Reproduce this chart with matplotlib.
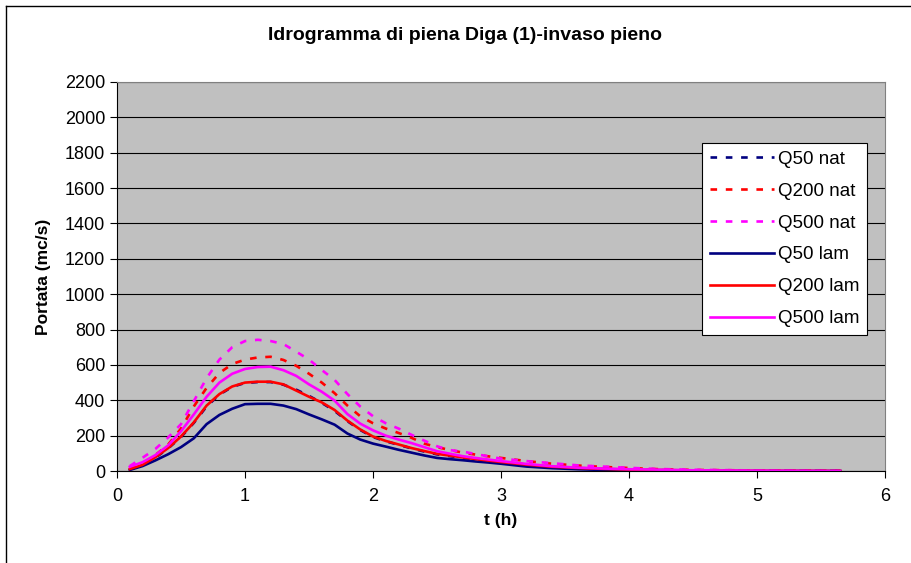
import matplotlib
matplotlib.use("Agg")
import matplotlib.pyplot as plt
from matplotlib.lines import Line2D

plt.rcParams['font.family'] = ['Liberation Sans', 'DejaVu Sans']

# tempo (h)
t = [0.1, 0.2, 0.3, 0.4, 0.5, 0.6, 0.7, 0.8, 0.9, 1.0,
     1.1, 1.2, 1.3, 1.4, 1.5, 1.6, 1.7, 1.8, 1.9, 2.0,
     2.1, 2.2, 2.3, 2.4, 2.5, 2.6, 2.7, 2.8, 2.9, 3.0,
     3.2, 3.4, 3.6, 3.8, 4.0, 4.2, 4.5, 5.0, 5.65]

# portate naturali (mc/s)
q50_nat = [10, 33, 75, 128, 192, 272, 365, 432, 476, 498,
           503, 503, 488, 460, 425, 385, 340, 282, 232, 192,
           168, 148, 128, 110, 94, 84, 74, 65, 56, 48,
           33, 22, 15, 10, 7, 5, 3, 1, 0]
q200_nat = [12, 40, 90, 150, 240, 365, 470, 554, 605, 630,
            642, 646, 628, 595, 550, 500, 440, 370, 310, 270,
            240, 215, 188, 155, 135, 119, 104, 93, 83, 74,
            56, 41, 31, 23, 17, 11, 6, 3, 1]
q500_nat = [28, 75, 125, 190, 265, 395, 525, 630, 700, 735,
            742, 735, 718, 675, 630, 571, 515, 435, 365, 310,
            270, 240, 205, 172, 140, 118, 110, 96, 83, 70,
            56, 44, 32, 25, 18, 12, 7, 3, 1]

# portate laminate (mc/s)
q50_lam = [6, 28, 60, 95, 135, 185, 265, 317, 352, 378,
           380, 380, 370, 350, 320, 292, 262, 212, 178, 155,
           138, 120, 104, 88, 74, 67, 61, 54, 48, 41,
           25, 16, 10, 6, 4, 2, 1, 0, 0]
q200_lam = [11, 35, 78, 130, 195, 275, 370, 435, 478, 500,
            505, 505, 490, 455, 420, 388, 345, 285, 235, 195,
            170, 150, 130, 113, 97, 87, 77, 68, 59, 51,
            36, 24, 17, 12, 8, 6, 3, 1, 0]
q500_lam = [24, 50, 90, 145, 225, 320, 420, 500, 550, 577,
            588, 590, 570, 538, 490, 448, 398, 322, 268, 230,
            200, 178, 158, 135, 112, 98, 84, 74, 65, 56,
            40, 27, 19, 14, 10, 8, 4, 2, 0]

navy = '#000080'
red = '#FF0000'
magenta = '#FF00FF'

fig = plt.figure(figsize=(9.12, 5.63), dpi=100)
ax = fig.add_axes([0.1283, 0.1634, 0.8421, 0.6910])
ax.set_facecolor('#C0C0C0')

dash = (2.5, 3.3)
lw = 1.9
ax.plot(t, q50_nat, color=navy, lw=lw, linestyle=(0, dash), label='Q50 nat')
ax.plot(t, q200_nat, color=red, lw=lw, linestyle=(0, dash), label='Q200 nat')
ax.plot(t, q500_nat, color=magenta, lw=lw, linestyle=(0, dash), label='Q500 nat')
ax.plot(t, q50_lam, color=navy, lw=lw, label='Q50 lam')
ax.plot(t, q200_lam, color=red, lw=lw, label='Q200 lam')
ax.plot(t, q500_lam, color=magenta, lw=lw, label='Q500 lam')

ax.set_xlim(0, 6)
ax.set_ylim(0, 2200)
ax.set_xticks(range(0, 7))
ax.set_yticks(range(0, 2201, 200))
ax.yaxis.grid(True, color='black', lw=0.8)
ax.set_axisbelow(True)
ax.tick_params(direction='out', length=5, width=0.8, labelsize=13, colors='black')
ax.tick_params(axis='x', pad=7)
for s in ['top', 'right']:
    ax.spines[s].set_color('#808080')
for s in ['left', 'bottom']:
    ax.spines[s].set_color('black')

ax.set_xlabel('t (h)', fontsize=12.5, fontweight='bold', labelpad=6)
ax.set_ylabel('Portata (mc/s)', fontsize=12.5, fontweight='bold', labelpad=10)
fig.text(0.51, 0.937, 'Idrogramma di piena Diga (1)-invaso pieno',
         ha='center', va='center', fontsize=14, fontweight='bold')

leg = ax.legend(loc='upper right', bbox_to_anchor=(0.977, 0.843), fontsize=13.5,
                frameon=True, fancybox=False, framealpha=1, edgecolor='black',
                handlelength=3.4, labelspacing=0.79, borderpad=0.4,
                handletextpad=0.25, borderaxespad=0)
leg.get_frame().set_linewidth(0.8)

# cornice del grafico
fig.add_artist(Line2D([6/912, 6/912], [0, 1 - 6/563], color='black', lw=1))
fig.add_artist(Line2D([6/912, 1], [1 - 6/563, 1 - 6/563], color='black', lw=1))

fig.savefig('out.png', dpi=100)
